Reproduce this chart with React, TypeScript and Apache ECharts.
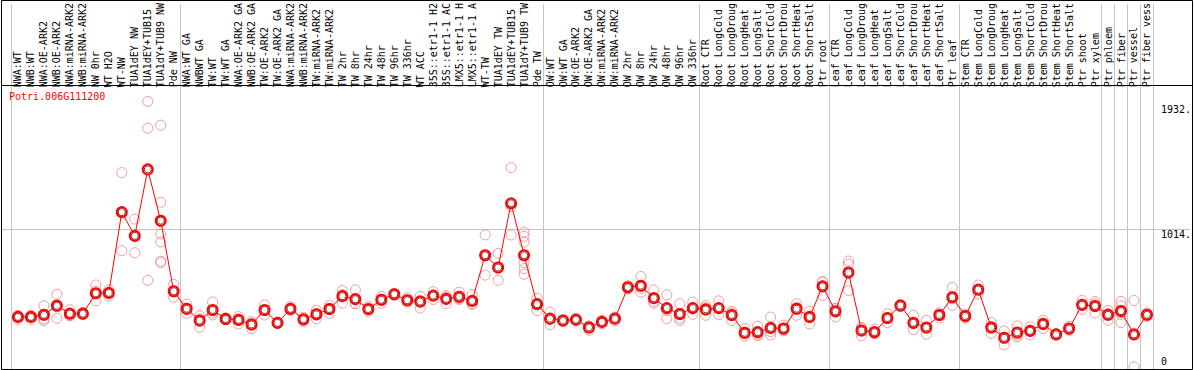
import React, { useEffect, useRef } from "react";
import * as echarts from "echarts";

const geneId = "Potri.006G111200";

const categories = [
  "NWA:WT", "NWB:WT", "NWA:OE-ARK2", "NWB:OE-ARK2", "NWA:miRNA-ARK2", "NWB:miRNA-ARK2",
  "NW 0hr", "WT H2O", "WT-NW", "TUA1dEY NW", "TUA1dEY+TUB15", "TUA1dY+TUB9 NW", "Pde NW",
  "NWA:WT GA", "NWBWT GA", "TW:WT", "TW:WT GA", "NWA:OE-ARK2 GA", "NWB:OE-ARK2 GA",
  "TW:OE-ARK2", "TW:OE-ARK2 GA", "NWA:miRNA-ARK2", "NWB:miRNA-ARK2", "TW:miRNA-ARK2",
  "TW:miRNA-ARK2", "TW 2hr", "TW 8hr", "TW 24hr", "TW 48hr", "TW 96hr", "TW 336hr",
  "WT ACC", "35S::etr1-1 H2", "35S::etr1-1 AC", "LMX5::etr1-1 H", "LMX5::etr1-1 A",
  "WT-TW", "TUA1dEY TW", "TUA1dEY+TUB15", "TUA1dY+TUB9 TW", "Pde TW",
  "OW:WT", "OW:WT GA", "OW:OE-ARK2", "OW:OE-ARK2 GA", "OW:miRNA-ARK2", "OW:miRNA-ARK2",
  "OW 2hr", "OW 8hr", "OW 24hr", "OW 48hr", "OW 96hr", "OW 336hr",
  "Root CTR", "Root LongCold", "Root LongDroug", "Root LongHeat", "Root LongSalt",
  "Root ShortCold", "Root ShortDrou", "Root ShortHeat", "Root ShortSalt", "Ptr root",
  "Leaf CTR", "Leaf LongCold", "Leaf LongDroug", "Leaf LongHeat", "Leaf LongSalt",
  "Leaf ShortCold", "Leaf ShortDrou", "Leaf ShortHeat", "Leaf ShortSalt", "Ptr leaf",
  "Stem CTR", "Stem LongCold", "Stem LongDroug", "Stem LongHeat", "Stem LongSalt",
  "Stem ShortCold", "Stem ShortDrou", "Stem ShortHeat", "Stem ShortSalt", "Ptr shoot",
  "Ptr xylem", "Ptr phloem", "Ptr fiber", "Ptr vessel", "Ptr fiber vess",
];

const means = [
  369, 369, 385, 451, 393, 393, 543, 546, 1141, 966, 1456, 1078, 558,
  429, 342, 420, 354, 347, 313, 420, 325, 428, 351, 388, 427, 522, 500, 427,
  495, 536, 492, 482, 526, 502, 517, 487, 823, 733, 1206, 823, 463,
  356, 342, 349, 291, 332, 356, 587, 599, 507, 434, 390, 434,
  424, 434, 383, 252, 257, 288, 283, 429, 368, 594,
  410, 696, 269, 257, 361, 453, 325, 291, 383, 514,
  376, 570, 291, 215, 254, 266, 317, 240, 283, 458,
  449, 385, 412, 240, 385,
];

const replicates = [
  [375, 352, 380], [383, 351, 373], [451, 342, 354], [536, 359, 458], [422, 376, 381],
  [402, 385, 392], [604, 560, 487], [568, 546, 524], [1432, 857], [1090, 842],
  [1957, 1760, 638], [1782, 1214, 980, 922, 779, 769], [609, 514],
  [463, 395], [378, 293, 355], [480, 383, 397], [360, 348], [371, 317, 353],
  [322, 283, 334], [458, 383], [330, 320], [444, 415], [366, 337], [417, 356, 390],
  [453, 395, 433], [563, 470, 533], [568, 466, 466], [445, 410], [519, 470],
  [541, 530], [509, 478], [521, 434, 490], [555, 497, 526], [526, 466, 514],
  [551, 502, 498], [534, 466, 461], [973, 820, 677], [837, 638], [1469, 1182, 973],
  [993, 963, 920, 769, 725, 684], [507, 415, 467],
  [405, 313, 350], [342, 337, 347], [356, 342], [303, 271, 299], [344, 320],
  [368, 339, 361], [599, 575], [667, 551, 579], [568, 470, 483], [531, 356, 415],
  [466, 344, 360], [478, 388, 436],
  [453, 381, 438], [487, 385, 430], [410, 342, 397], [283, 228, 245], [300, 230, 241],
  [368, 235, 261], [308, 266, 275], [466, 381, 440], [410, 317, 377], [628, 526, 628],
  [429, 368, 433], [781, 757, 563], [288, 228, 291], [279, 247, 245], [393, 327, 363],
  [453, 460, 445], [381, 276, 318], [342, 242, 289], [361, 400, 388], [587, 453, 502],
  [376, 361, 390], [604, 538, 568], [327, 247, 299], [266, 162, 217], [303, 223, 236],
  [295, 235, 268], [344, 283, 324], [235, 245, 240], [300, 279, 270], [490, 424, 460],
  [483, 398, 466], [417, 344, 394], [483, 450, 327, 388], [490, 0], [398, 385, 372],
];

// category counts after which a group separator is drawn
const groupEnds = [0, 13, 41, 53, 63, 73, 84, 85, 86, 87, 88];
const yTopLabels = [1014, 1932];
const yBottomLabels = [0];
const yGridValues = [1014];

const MONO = "'DejaVu Sans Mono', monospace";

export default function App() {
  const ref = useRef<HTMLDivElement>(null);

  useEffect(() => {
    if (!ref.current) return;
    const chart = echarts.init(ref.current, null, { renderer: "svg" });

    const xIndex = categories.map((_, i) => i + 1);
    const repData: number[][] = [];
    replicates.forEach((arr, i) => arr.forEach((v) => repData.push([i + 1, v])));
    const meanData = means.map((v, i) => [i + 1, v]);

    const yMin = -15;
    const yMax = 2673;
    const xMin = -0.3077;
    const xMax = 91.308;

    const yAxisBase = {
      type: "value",
      position: "right",
      min: yMin,
      max: yMax,
      axisLine: { show: false },
      axisTick: { show: false },
      splitLine: { show: false },
    };

    chart.setOption({
      animation: false,
      backgroundColor: "#ffffff",
      title: {
        text: geneId,
        left: 9,
        top: 91,
        padding: 0,
        textStyle: { color: "#ff0000", fontFamily: MONO, fontSize: 10, fontWeight: "normal" },
      },
      grid: { left: 1, right: 2, top: 0, bottom: 1 },
      xAxis: {
        type: "value",
        position: "top",
        min: xMin,
        max: xMax,
        axisLine: { show: false },
        axisTick: { show: false },
        splitLine: { show: false },
        axisLabel: {
          customValues: xIndex,
          formatter: (v: number) => categories[Math.round(v) - 1] ?? "",
          inside: true,
          rotate: 90,
          margin: 83,
          align: "left",
          verticalAlign: "middle",
          fontFamily: MONO,
          fontSize: 10,
          color: "#000",
        },
      },
      yAxis: [
        {
          ...yAxisBase,
          axisLabel: {
            customValues: yTopLabels,
            formatter: (v: number) => `${v}.`,
            inside: true,
            margin: 29,
            align: "left",
            verticalAlign: "top",
            fontFamily: MONO,
            fontSize: 10,
            color: "#000",
          },
        },
        {
          ...yAxisBase,
          axisLabel: {
            customValues: yBottomLabels,
            formatter: (v: number) => `${v}`,
            inside: true,
            margin: 29,
            align: "left",
            verticalAlign: "bottom",
            fontFamily: MONO,
            fontSize: 10,
            color: "#000",
          },
        },
      ],
      graphic: [
        {
          type: "rect",
          silent: true,
          z: 100,
          shape: { x: 1.5, y: 0.5, width: 1191, height: 369 },
          style: { fill: "none", stroke: "#000", lineWidth: 1 },
        },
        {
          type: "line",
          silent: true,
          z: 100,
          shape: { x1: 1, y1: 85.5, x2: 1192, y2: 85.5 },
          style: { stroke: "#000", lineWidth: 1 },
        },
      ],
      series: [
        {
          type: "scatter",
          data: repData,
          symbol: "circle",
          symbolSize: 10,
          silent: true,
          z: 2,
          itemStyle: { color: "rgba(0,0,0,0)", borderColor: "#ea8585", borderWidth: 1 },
          markLine: {
            silent: true,
            z: 1,
            symbol: ["none", "none"],
            label: { show: false },
            lineStyle: { color: "#c4c4c4", type: "solid", width: 1 },
            data: [
              ...groupEnds.map((g) => ({ xAxis: g + 0.5 })),
              ...yGridValues.map((v) => ({ yAxis: v })),
            ],
          },
        },
        {
          type: "line",
          data: meanData,
          symbol: "emptyCircle",
          symbolSize: 10,
          silent: true,
          z: 3,
          itemStyle: { color: "#ff0000", borderColor: "#ff0000", borderWidth: 1.3 },
          lineStyle: { color: "#ff0000", width: 1 },
        },
        {
          type: "scatter",
          data: meanData,
          symbol: "circle",
          symbolSize: 7,
          silent: true,
          z: 4,
          itemStyle: { color: "rgba(0,0,0,0)", borderColor: "#5a0000", borderWidth: 1 },
        },
      ],
    });

    return () => chart.dispose();
  }, []);

  return (
    <div
      ref={ref}
      style={{ position: "fixed", left: 0, top: 0, width: 1194, height: 370, background: "#fff" }}
    />
  );
}
